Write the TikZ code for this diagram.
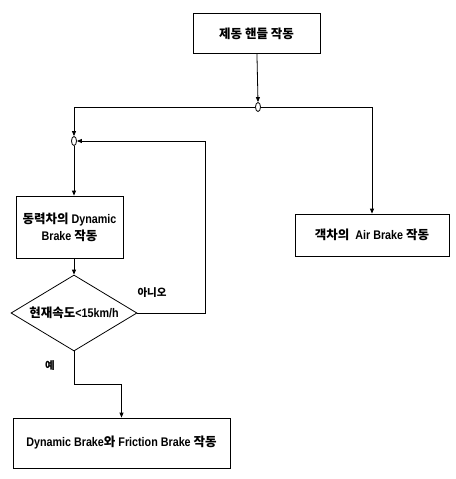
\documentclass[tikz,border=0pt]{standalone}
\usepackage{fontspec}
\setmainfont{Liberation Sans}[FakeStretch=0.86]
\newfontfamily\kr{Noto Sans CJK KR}
\usetikzlibrary{arrows.meta, positioning, shapes.geometric}

\begin{document}
\begin{tikzpicture}[x=1pt, y=-1pt, >={Triangle[length=5pt, width=4pt]},
    every path/.style={thick},
    box/.style={draw, align=center, inner sep=0pt, font=\bfseries\fontsize{12.5}{17}\selectfont},
    junc/.style={draw, ellipse, minimum width=5pt, minimum height=9pt, inner sep=0pt},
    answer/.style={font=\kr\bfseries\fontsize{10.5}{12}\selectfont}]
    \useasboundingbox (0,0) rectangle (455,479);
    % blocks
    \node[box, minimum width=127pt, minimum height=40pt] (handle) at (256.5,33.5) {\kr 제동 핸들 작동};
    \node[junc] (split) at (258,107) {};
    \node[junc] (merge) at (74,141) {};
    \node[box, minimum width=107pt, minimum height=62pt] (dynamic) at (69.5,227) {{\kr 동력차의} Dynamic\\Brake {\kr 작동}};
    \node[draw, diamond, inner sep=0pt, minimum width=126pt, minimum height=76pt,
        label={[font=\bfseries\fontsize{12.5}{14}\selectfont]center:{\kr 현재속도}<15km/h}] (speed) at (74,313) {};
    \node[box, minimum width=154pt, minimum height=42pt] (airbrake) at (372,235) {{\kr 객차의} \ Air Brake {\kr 작동}};
    \node[box, minimum width=217pt, minimum height=50pt] (friction) at (121.5,443) {Dynamic Brake{\kr 와} Friction Brake {\kr 작동}};
    % connectors
    \draw[->] (handle) -- (split.north);
    \draw[->] (split.west) -| (merge.north);
    \draw[->] (split.east) -| (airbrake.north);
    \draw[->] (merge.south) -- (merge |- dynamic.north);
    \draw[->] (dynamic.south -| merge) -- (speed.north);
    \draw[->] (speed.east) -- ++(68,0) |- (merge.east);
    \draw[->] (speed.south) -- ++(0,33) -| (friction.north);
    \node[answer] (no) at (152,293) {아니오};
    \node[answer] (yes) at (50,366) {예};
\end{tikzpicture}
\end{document}
